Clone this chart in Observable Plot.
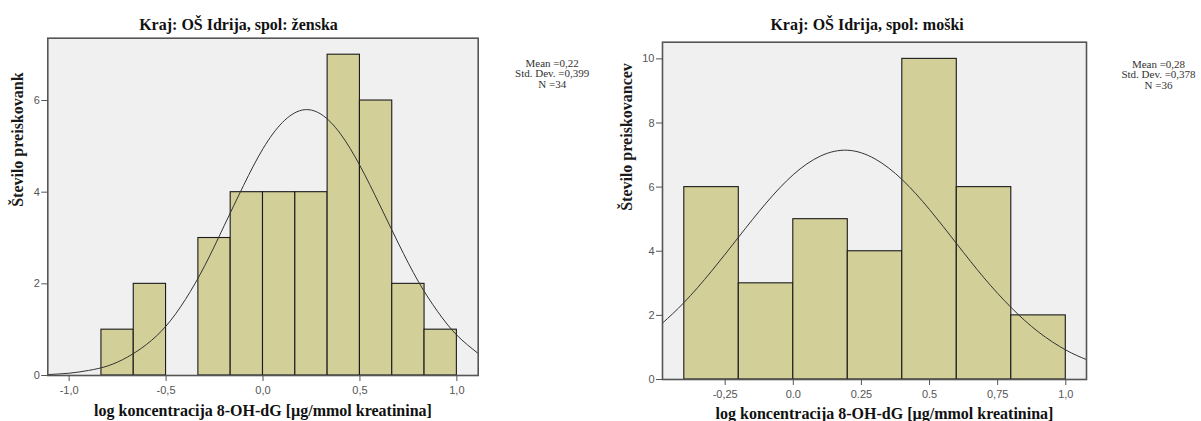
<!DOCTYPE html>
<html>
<head>
<meta charset="utf-8">
<script src="https://cdn.jsdelivr.net/npm/d3@7"></script>
<script src="https://cdn.jsdelivr.net/npm/@observablehq/plot@0.6"></script>
<style>
  html, body { margin: 0; padding: 0; background: #ffffff; }
  #wrap { position: relative; width: 1201px; height: 421px; overflow: hidden; }
  #left { position: absolute; left: 0; top: 0; }
  #right { position: absolute; left: 600px; top: 0; }
</style>
</head>
<body>
<div id="wrap"><div id="left"></div><div id="right"></div></div>
<script>
// ---- Left panel data (ženska) ----
const leftTitle = "Kraj: OŠ Idrija, spol: ženska";
const leftYLabel = "Število preiskovank";
const leftStats = ["Mean =0,22", "Std. Dev. =0,399", "N =34"];
const leftBinEdges = [-0.8333, -0.6667, -0.5, -0.3333, -0.1667, 0, 0.1667, 0.3333, 0.5, 0.6667, 0.8333, 1.0];
const leftCounts = [1, 2, 0, 3, 4, 4, 4, 7, 6, 2, 1];
const leftCurveX = [-1.11, -1.0, -0.9, -0.8, -0.7, -0.6, -0.5, -0.4, -0.3, -0.2, -0.1, 0, 0.1, 0.2, 0.3, 0.4, 0.5, 0.6, 0.7, 0.8, 0.9, 1.0, 1.11];
const leftCurveY = [0.02, 0.05, 0.11, 0.21, 0.40, 0.68, 1.08, 1.66, 2.40, 3.27, 4.15, 4.95, 5.52, 5.79, 5.70, 5.27, 4.58, 3.74, 2.87, 2.06, 1.40, 0.88, 0.48];
const leftXTicks = [-1.0, -0.5, 0.0, 0.5, 1.0];
const leftXTickLabels = ["-1,0", "-0,5", "0,0", "0,5", "1,0"];
const leftYTicks = [0, 2, 4, 6];

// ---- Right panel data (moški) ----
const rightTitle = "Kraj: OŠ Idrija, spol: moški";
const rightYLabel = "Število preiskovancev";
const rightStats = ["Mean =0,28", "Std. Dev. =0,378", "N =36"];
const rightBinEdges = [-0.4, -0.2, 0.0, 0.2, 0.4, 0.6, 0.8, 1.0];
const rightCounts = [6, 3, 5, 4, 10, 6, 2];
const rightCurveX = [-0.48, -0.4, -0.3, -0.2, -0.1, 0, 0.1, 0.2, 0.3, 0.4, 0.5, 0.6, 0.7, 0.8, 0.9, 1.0, 1.076];
const rightCurveY = [1.76, 2.41, 3.38, 4.45, 5.50, 6.39, 6.97, 7.15, 6.88, 6.23, 5.30, 4.23, 3.17, 2.24, 1.48, 0.92, 0.62];
const rightXTicks = [-0.25, 0.0, 0.25, 0.5, 0.75, 1.0];
const rightXTickLabels = ["-0,25", "0.0", "0.25", "0.5", "0,75", "1,0"];
const rightYTicks = [0, 2, 4, 6, 8, 10];

const xLabel = "log koncentracija 8-OH-dG [µg/mmol kreatinina]";

function panel(cfg) {
  const bars = cfg.counts.map((c, i) => ({x1: cfg.edges[i], x2: cfg.edges[i + 1], count: c})).filter(d => d.count > 0);
  const curve = cfg.curveX.map((x, i) => ({x, y: cfg.curveY[i]}));
  const tickMap = new Map(cfg.xTicks.map((t, i) => [t, cfg.xTickLabels[i]]));
  const serif = "'Liberation Serif', 'Times New Roman', serif";
  return Plot.plot({
    width: cfg.width,
    height: 421,
    marginLeft: cfg.m[0],
    marginRight: cfg.m[1],
    marginTop: cfg.m[2],
    marginBottom: cfg.m[3],
    x: {domain: cfg.xDomain, axis: null},
    y: {domain: cfg.yDomain, axis: null},
    style: {background: "transparent", overflow: "visible", color: "#555", fontFamily: "'Liberation Sans', Arial, sans-serif"},
    marks: [
      Plot.frame({fill: "#f0f0f0", stroke: null}),
      Plot.rectY(bars, {x1: "x1", x2: "x2", y: "count", fill: "#d3cf98", stroke: "#1a1a1a", strokeWidth: 1.1}),
      Plot.line(curve, {x: "x", y: "y", curve: "natural", stroke: "#333", strokeWidth: 1}),
      Plot.frame({stroke: "#555", strokeWidth: 1.6}),
      Plot.axisX({ticks: cfg.xTicks, tickFormat: d => tickMap.get(d), tickSize: 6, tickPadding: 5, fontSize: 11, label: null}),
      Plot.axisY({ticks: cfg.yTicks, tickFormat: d => String(d), tickSize: 6, tickPadding: 2, fontSize: 11, label: null}),
      Plot.text([cfg.title], {frameAnchor: "top", dx: cfg.titleDx, dy: cfg.titleDy, text: d => d, lineAnchor: "middle",
        fontSize: 16, fontWeight: "bold", fontFamily: serif, fill: "#111"}),
      Plot.text([cfg.yLabel], {frameAnchor: "left", dx: cfg.yLabelDx, dy: 0, rotate: -90, text: d => d, lineAnchor: "middle",
        fontSize: 16, fontWeight: "bold", fontFamily: serif, fill: "#1a1a1a"}),
      Plot.text([xLabel], {frameAnchor: "bottom", dx: cfg.xLabelDx, dy: cfg.xLabelDy, text: d => d, lineAnchor: "middle",
        fontSize: 16, fontWeight: "bold", fontFamily: serif, fill: "#111"}),
      Plot.text([cfg.stats.join("\n")], {frameAnchor: "top-right", dx: cfg.statsDx, dy: cfg.statsDy, text: d => d, lineAnchor: "middle",
        textAnchor: "middle", lineHeight: 0.95, fontSize: 11, fontFamily: serif, fill: "#333"})
    ]
  });
}

document.getElementById("left").appendChild(panel({
  width: 600,
  m: [47.3, 122.3, 37.7, 46],
  xDomain: [-1.11, 1.11], yDomain: [0, 7.36],
  edges: leftBinEdges, counts: leftCounts, curveX: leftCurveX, curveY: leftCurveY,
  xTicks: leftXTicks, xTickLabels: leftXTickLabels, yTicks: leftYTicks,
  title: leftTitle, titleDx: -24.5, titleDy: -13.5,
  yLabel: leftYLabel, yLabelDx: -30.3,
  xLabelDx: 0, xLabelDy: 35,
  stats: leftStats, statsDx: 74, statsDy: 35.6
}));

document.getElementById("right").appendChild(panel({
  width: 601,
  m: [62, 115, 41.7, 42],
  xDomain: [-0.48, 1.076], yDomain: [0, 10.52],
  edges: rightBinEdges, counts: rightCounts, curveX: rightCurveX, curveY: rightCurveY,
  xTicks: rightXTicks, xTickLabels: rightXTickLabels, yTicks: rightYTicks,
  title: rightTitle, titleDx: -7.4, titleDy: -17.5,
  yLabel: rightYLabel, yLabelDx: -35.2,
  xLabelDx: 10, xLabelDy: 34,
  stats: rightStats, statsDx: 72, statsDy: 32.6
}));
</script>
</body>
</html>
